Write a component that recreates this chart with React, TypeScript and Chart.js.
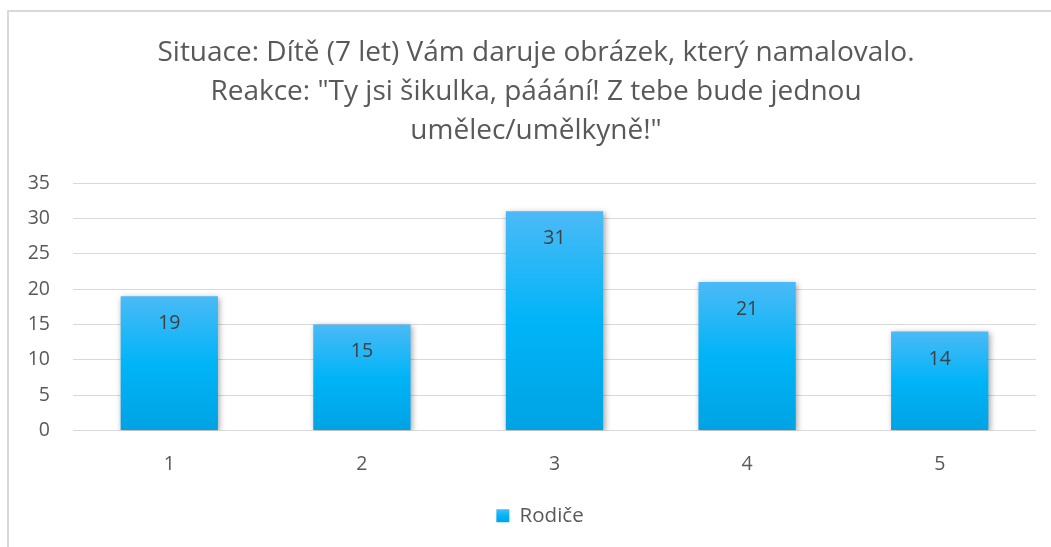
import React, { useEffect, useRef } from "react";
import { Chart, registerables } from "chart.js";

Chart.register(...registerables);

const titleLines = [
  "Situace: Dítě (7 let) Vám daruje obrázek, který namalovalo.",
  "Reakce: \"Ty jsi šikulka, pááání! Z tebe bude jednou",
  "umělec/umělkyně!\"",
];
const categories = ["1", "2", "3", "4", "5"];
const seriesName = "Rodiče";
const seriesValues = [19, 15, 31, 21, 14];
const yMin = 0;
const yMax = 35;
const yStep = 5;

const FONT = "'Open Sans', 'Noto Sans', sans-serif";
const TEXT = "#595959";
const GRID = "#d9d9d9";

const shadowPlugin = {
  id: "barShadow",
  beforeDatasetsDraw(chart: any) {
    const c = chart.ctx;
    c.save();
    c.shadowColor = "rgba(0,0,0,0.38)";
    c.shadowBlur = 6;
    c.shadowOffsetX = 1.5;
    c.shadowOffsetY = 1.5;
  },
  afterDatasetsDraw(chart: any) {
    chart.ctx.restore();
  },
};

const labelPlugin = {
  id: "barLabels",
  afterDatasetsDraw(chart: any) {
    const c = chart.ctx;
    const meta = chart.getDatasetMeta(0);
    c.save();
    c.fillStyle = "#404040";
    c.font = `19.5px ${FONT}`;
    c.textAlign = "center";
    c.textBaseline = "middle";
    meta.data.forEach((bar: any, i: number) => {
      c.fillText(String(chart.data.datasets[0].data[i]), bar.x, bar.y + 27.5);
    });
    c.restore();
  },
};

// Excel centres title and legend slightly right of the plot centre
const shiftPlugin = {
  id: "shiftBoxes",
  afterLayout(chart: any) {
    if (chart.titleBlock) {
      chart.titleBlock.left += 14;
      chart.titleBlock.right += 14;
    }
    if (chart.legend) {
      chart.legend.left += 18;
      chart.legend.right += 18;
    }
  },
};

export default function App() {
  const ref = useRef<HTMLCanvasElement | null>(null);
  useEffect(() => {
    if (!ref.current) return;
    const chart = new Chart(ref.current, {
      type: "bar",
      data: {
        labels: categories,
        datasets: [
          {
            label: seriesName,
            data: seriesValues,
            backgroundColor: (ctx: any) => {
              const ch = ctx.chart;
              if (ctx.type !== "data" || !ch.chartArea || !ch.scales.y) return "#1cb3f3";
              const ys = ch.scales.y;
              const top = ys.getPixelForValue(ctx.raw);
              const bottom = ys.getPixelForValue(0);
              const g = ch.ctx.createLinearGradient(0, top, 0, bottom);
              g.addColorStop(0, "#4bbaf6");
              g.addColorStop(0.5, "#00b4f8");
              g.addColorStop(1, "#00a3e3");
              return g;
            },
            borderWidth: 0,
            categoryPercentage: 1,
            barPercentage: 0.505,
          },
        ],
      },
      options: {
        responsive: false,
        animation: false,
        layout: { padding: { left: 8, right: 15, top: 12, bottom: 11 } },
        plugins: {
          title: {
            display: true,
            text: titleLines,
            color: TEXT,
            font: { family: FONT, size: 28, weight: "normal", lineHeight: 39 / 28 },
            padding: { top: 22, bottom: 32 },
          },
          legend: {
            display: true,
            position: "bottom",
            labels: {
              color: TEXT,
              font: { family: FONT, size: 20.5 },
              boxWidth: 13,
              boxHeight: 13,
              padding: 10,
              generateLabels: (chart: any) => {
                const c = chart.ctx;
                const g = c.createLinearGradient(0, 509, 0, 523);
                g.addColorStop(0, "#4bbaf6");
                g.addColorStop(0.5, "#00b4f8");
                g.addColorStop(1, "#00a3e3");
                return [
                  {
                    text: seriesName,
                    fillStyle: g,
                    strokeStyle: "rgba(0,0,0,0)",
                    lineWidth: 0,
                    fontColor: TEXT,
                    hidden: false,
                    datasetIndex: 0,
                  },
                ];
              },
            },
          },
          tooltip: { enabled: false },
        },
        scales: {
          x: {
            grid: { display: false, drawTicks: false },
            border: { display: false },
            ticks: { color: TEXT, font: { family: FONT, size: 19.5 }, padding: 22 },
            afterFit: (s: any) => {
              s.height = 65;
            },
          },
          y: {
            min: yMin,
            max: yMax,
            ticks: { stepSize: yStep, color: TEXT, font: { family: FONT, size: 19.5 }, padding: 23 },
            grid: { color: GRID, lineWidth: 1, drawTicks: false },
            border: { display: false },
            afterFit: (s: any) => {
              s.width = 65;
            },
          },
        },
      },
      plugins: [shadowPlugin, labelPlugin, shiftPlugin],
    } as any);
    return () => chart.destroy();
  }, []);

  return (
    <div style={{ position: "fixed", left: 0, top: 0, width: 1051, height: 547, overflow: "hidden", background: "#fff" }}>
      <div
        style={{
          position: "absolute",
          left: 7,
          top: 10,
          width: 1200,
          height: 800,
          borderTop: "2px solid #d9d9d9",
          borderLeft: "2px solid #d9d9d9",
        }}
      />
      <canvas ref={ref} width={1051} height={547} style={{ position: "absolute", left: 0, top: 0, display: "block" }} />
    </div>
  );
}
